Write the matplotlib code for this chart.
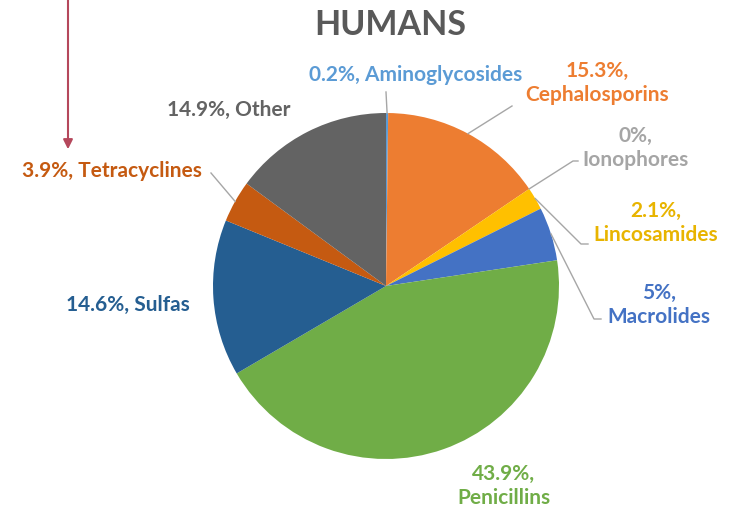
import numpy as np
import matplotlib.pyplot as plt

# Antibiotic classes used in humans (percent share), clockwise from 12 o'clock
classes = ['Aminoglycosides', 'Cephalosporins', 'Ionophores', 'Lincosamides',
           'Macrolides', 'Penicillins', 'Sulfas', 'Tetracyclines', 'Other']
shares = [0.2, 15.3, 0, 2.1, 5, 43.9, 14.6, 3.9, 14.9]
share_text = ['0.2%', '15.3%', '0%', '2.1%', '5%', '43.9%', '14.6%', '3.9%', '14.9%']
colors = ['#5B9BD5', '#ED7D31', '#A5A5A5', '#FFC000', '#4472C4',
          '#70AD47', '#255E91', '#C55A11', '#636363']
label_colors = ['#5B9BD5', '#ED7D31', '#A5A5A5', '#E8B400', '#4472C4',
                '#70AD47', '#255E91', '#C55A11', '#636363']

# pie placement in pixels of the 734x510 figure
cx, cy, rad = 386, 287, 173

def to_u(x, y):
    return (x - cx) / rad, (cy - y) / rad

# label placements (pixel), multiline flag, leader-line end (pixel or None)
label_pos = [(416, 75), (597, 83), (635, 148), (656, 223), (659, 305),
             (504, 486), (128, 305), (112, 171), (229, 110)]
multiline = [False, True, True, True, True, True, False, False, False]
leader_end = [(386, 93), (512, 107), (573, 162), (581, 245), (594, 320),
              None, None, (211, 174), None]
hook = [0, 0, 5, 7, 7, 0, 0, 0, 0]

fig = plt.figure(figsize=(7.34, 5.10), dpi=100)
ax = fig.add_axes([0, 0, 1, 1])
wedges, _ = ax.pie(shares, colors=colors, startangle=90, counterclock=False,
                   radius=1, wedgeprops=dict(linewidth=0))
ax.set_xlim(-cx / rad, (734 - cx) / rad)
ax.set_ylim(-(510 - cy) / rad, cy / rad)
ax.set_aspect('equal')
ax.axis('off')

font = ['Lato', 'DejaVu Sans']
for i, w in enumerate(wedges):
    sep = '\n' if multiline[i] else ' '
    tx, ty = to_u(*label_pos[i])
    ax.text(tx, ty, share_text[i] + ',' + sep + classes[i], ha='center', va='center',
            color=label_colors[i], fontsize=15, fontweight='bold', family=font,
            linespacing=1.2)
    if leader_end[i] is not None:
        mid = np.deg2rad((w.theta1 + w.theta2) / 2)
        ex, ey = to_u(*leader_end[i])
        hx, hy = to_u(leader_end[i][0] + hook[i], leader_end[i][1])
        ax.plot([np.cos(mid), ex, hx], [np.sin(mid), ey, hy], color='#A6A6A6', lw=1)

tx, ty = to_u(390, 25)
ax.text(tx, ty, 'HUMANS', ha='center', va='center', fontsize=24.5,
        fontweight='bold', color='#595959', family=font)

# red arrow pointing down to Tetracyclines
ax.annotate('', xy=to_u(68, 153), xytext=to_u(68, -2),
            arrowprops=dict(arrowstyle='-|>', color='#B5485C', lw=1.5,
                            mutation_scale=14))

fig.savefig('out.png', dpi=100)
